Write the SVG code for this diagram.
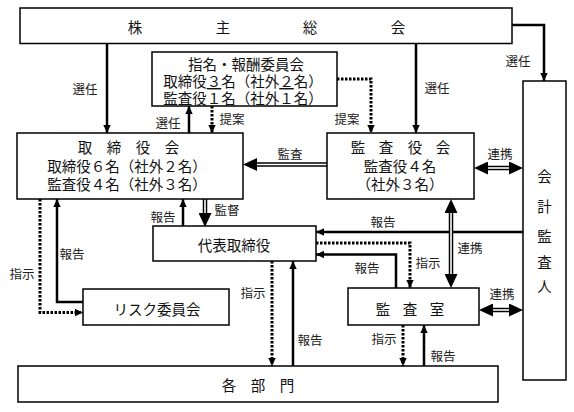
<svg xmlns="http://www.w3.org/2000/svg" width="574" height="412" viewBox="0 0 574 412">
<defs>
<style>
.box{fill:#fff;stroke:#000;stroke-width:1.5}
.ln{fill:none;stroke:#000;stroke-width:2.5;marker-end:url(#s)}
.dt{fill:none;stroke:#000;stroke-width:3;stroke-dasharray:2.5 1.5;marker-end:url(#s)}
.dbo{fill:none;stroke:#000;stroke-width:4.5}
.dbi{fill:none;stroke:#fff;stroke-width:1.6}
.t{font-family:"Noto Sans CJK JP","Noto Sans CJK SC",sans-serif;font-size:14.5px;fill:#111;text-anchor:middle;dominant-baseline:central}
.l{font-size:12.5px;fill:#222}
</style>
<marker id="s" markerUnits="userSpaceOnUse" viewBox="0 0 8 8" markerWidth="8" markerHeight="8" refX="8" refY="4" orient="auto"><path d="M0,0.3 L8,4 L0,7.7Z" fill="#000"/></marker>
<marker id="b" markerUnits="userSpaceOnUse" viewBox="0 0 14 13" markerWidth="14" markerHeight="13" refX="0" refY="6.5" orient="auto-start-reverse"><path d="M0,0 L14,6.5 L0,13Z" fill="#000"/></marker>
</defs>
<rect width="574" height="412" fill="#fff"/>

<g id="connectors">
<path class="ln" d="M107,43.5 V133"/>
<path class="ln" d="M189,133 V106"/>
<path class="ln" d="M416,43.5 V133"/>
<path class="ln" d="M512,25 H544 V81"/>
<path class="ln" d="M183,226 V199"/>
<path class="ln" d="M523,232 H316"/>
<path class="ln" d="M396,288 V254.5 H316"/>
<path class="ln" d="M293,366 V261"/>
<path class="ln" d="M424,366 V325"/>
<path class="ln" d="M83,302 H57 V199"/>
<path class="dt" d="M212,106 V133"/>
<path class="dt" d="M337,79 H371 V133"/>
<path class="dt" d="M40,199 V312.5 H83"/>
<path class="dt" d="M316,243 H410 V288"/>
<path class="dt" d="M272,261 V366"/>
<path class="dt" d="M403,325 V366"/>
<path class="dbo" d="M327,164.5 H257" marker-end="url(#b)"/>
<path class="dbi" d="M327,164.5 H257"/>
<path class="dbo" d="M205,199 V213" marker-end="url(#b)"/>
<path class="dbi" d="M205,199 V213"/>
<path class="dbo" d="M488,168 H509" marker-start="url(#b)" marker-end="url(#b)"/>
<path class="dbi" d="M488,168 H509"/>
<path class="dbo" d="M451,213 V274" marker-start="url(#b)" marker-end="url(#b)"/>
<path class="dbi" d="M451,213 V274"/>
<path class="dbo" d="M493,310 H509" marker-start="url(#b)" marker-end="url(#b)"/>
<path class="dbi" d="M493,310 H509"/>
<text class="t l" x="85" y="88">選任</text>
<text class="t l" x="168" y="122">選任</text>
<text class="t l" x="232" y="118">提案</text>
<text class="t l" x="347" y="118">提案</text>
<text class="t l" x="437" y="87">選任</text>
<text class="t l" x="518" y="60">選任</text>
<text class="t l" x="290" y="153">監査</text>
<text class="t l" x="500" y="153">連携</text>
<text class="t l" x="163" y="216">報告</text>
<text class="t l" x="227" y="209">監督</text>
<text class="t l" x="383" y="221">報告</text>
<text class="t l" x="72" y="253">報告</text>
<text class="t l" x="22" y="273">指示</text>
<text class="t l" x="470" y="247">連携</text>
<text class="t l" x="428" y="262">指示</text>
<text class="t l" x="367" y="267">報告</text>
<text class="t l" x="253" y="292">指示</text>
<text class="t l" x="502" y="293">連携</text>
<text class="t l" x="384" y="338">指示</text>
<text class="t l" x="310" y="339">報告</text>
<text class="t l" x="443" y="355">報告</text>
</g>

<g id="shareholders">
<rect class="box" x="20" y="8" width="492" height="35.5"/>
<text class="t" x="135" y="26">株</text>
<text class="t" x="223" y="26">主</text>
<text class="t" x="310" y="26">総</text>
<text class="t" x="398" y="26">会</text>
</g>

<g id="nomination">
<rect class="box" x="152" y="52" width="185" height="54"/>
<text class="t" x="246" y="63">指名・報酬委員会</text>
<text class="t" x="243" y="80">取締役<tspan text-decoration="underline">３</tspan>名（社外<tspan text-decoration="underline">２</tspan>名）</text>
<text class="t" x="243" y="97">監査役１名（社外１名）</text>
</g>

<g id="board">
<rect class="box" x="17" y="133" width="226" height="66"/>
<text class="t" x="85" y="146">取</text>
<text class="t" x="114" y="146">締</text>
<text class="t" x="143" y="146">役</text>
<text class="t" x="172" y="146">会</text>
<text class="t" x="127" y="165">取締役６名（社外２名）</text>
<text class="t" x="127" y="183">監査役４名（社外３名）</text>
</g>

<g id="auditboard">
<rect class="box" x="327" y="133" width="147" height="66"/>
<text class="t" x="358" y="146">監</text>
<text class="t" x="386" y="146">査</text>
<text class="t" x="415" y="146">役</text>
<text class="t" x="443" y="146">会</text>
<text class="t" x="400" y="165">監査役４名</text>
<text class="t" x="400" y="183">（社外３名）</text>
</g>

<g id="accountant">
<rect class="box" x="523" y="81" width="43" height="299"/>
<text class="t" x="544.5" y="175">会</text>
<text class="t" x="544.5" y="205">計</text>
<text class="t" x="544.5" y="235">監</text>
<text class="t" x="544.5" y="261">査</text>
<text class="t" x="544.5" y="285">人</text>
</g>

<g id="president">
<rect class="box" x="153" y="226" width="163" height="35"/>
<text class="t" x="234" y="244">代表取締役</text>
</g>

<g id="risk">
<rect class="box" x="83" y="289" width="146" height="36"/>
<text class="t" x="157" y="308">リスク委員会</text>
</g>

<g id="auditoffice">
<rect class="box" x="348" y="288" width="131" height="37"/>
<text class="t" x="383" y="308">監</text>
<text class="t" x="410" y="308">査</text>
<text class="t" x="437" y="308">室</text>
</g>

<g id="departments">
<rect class="box" x="18" y="366" width="480" height="36"/>
<text class="t" x="229" y="384">各</text>
<text class="t" x="258" y="384">部</text>
<text class="t" x="287" y="384">門</text>
</g>
</svg>
